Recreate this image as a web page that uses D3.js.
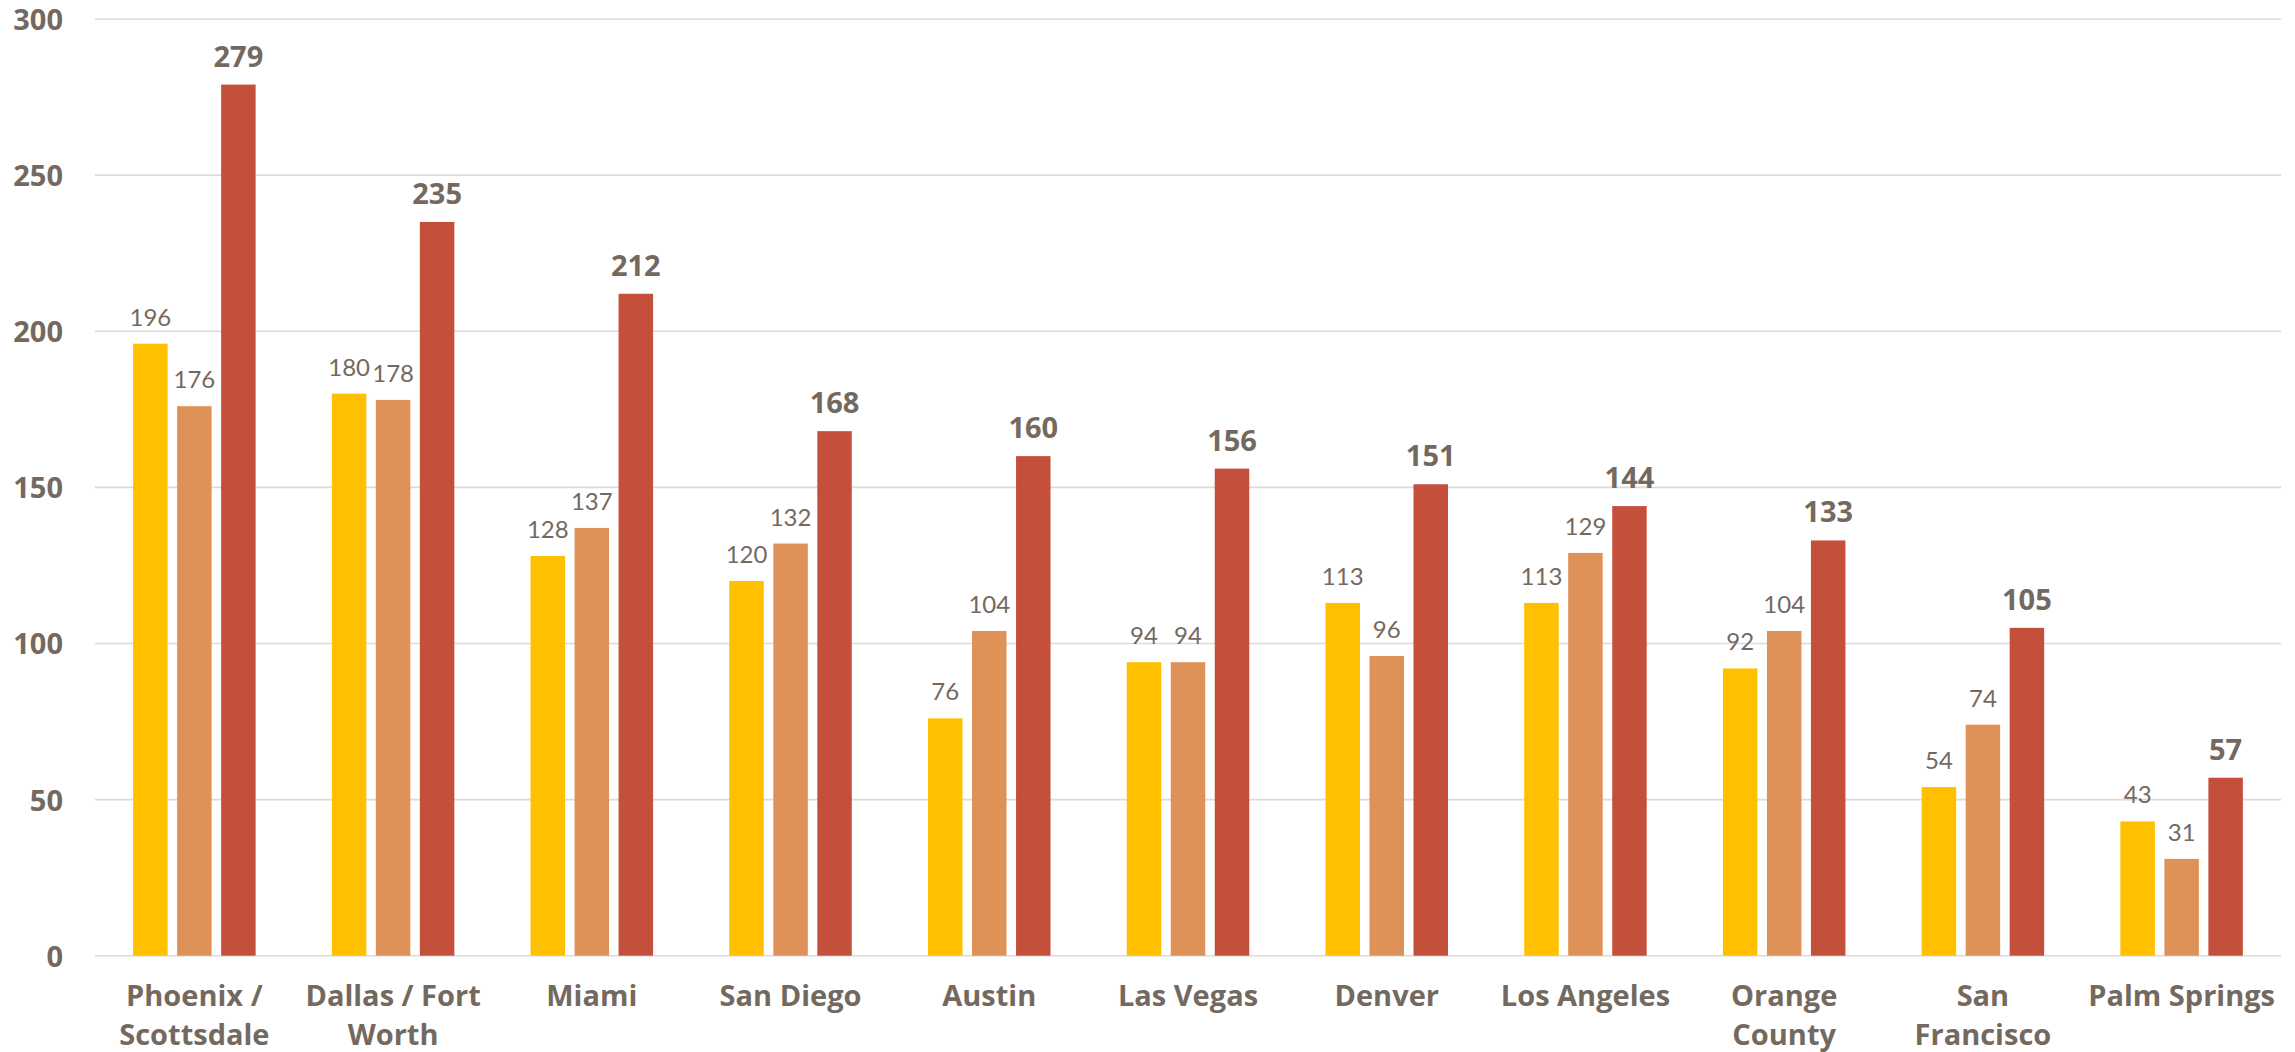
<!DOCTYPE html>
<html><head><meta charset="utf-8">
<script src="https://cdn.jsdelivr.net/npm/d3@7"></script>
<style>html,body{margin:0;padding:0;background:#fff;}svg{display:block;}</style>
</head><body>
<svg id="chart" width="2295" height="1052"></svg>
<script>
const categories = [["Phoenix /","Scottsdale"],["Dallas / Fort","Worth"],["Miami"],["San Diego"],["Austin"],["Las Vegas"],["Denver"],["Los Angeles"],["Orange","County"],["San","Francisco"],["Palm Springs"]];
const seriesNames = ["s1","s2","s3"];
const series1 = [196,180,128,120,76,94,113,113,92,54,43];
const series2 = [176,178,137,132,104,94,96,129,104,74,31];
const series3 = [279,235,212,168,160,156,151,144,133,105,57];
const yTicks = [0,50,100,150,200,250,300];
const colors = ["#FFC000","#DF9257","#C4503C"];

(function(){
const boldFont = "'Century Gothic','Open Sans',sans-serif";
const lightFont = "'Century Gothic','Lato',sans-serif";
const textColor = "#74695F";
const svg = d3.select("#chart");
const mLeft = 95, mRight = 2281, mTop = 19, mBottom = 955.7;
const catKeys = categories.map(c => c.join(" "));
const x0 = d3.scaleBand().domain(catKeys).range([mLeft, mRight]).padding(0);
const x1 = d3.scaleBand().domain(seriesNames).range([-61.25, 61.25]).paddingInner(0.216).paddingOuter(0);
const y = d3.scaleLinear().domain([0,300]).range([mBottom, mTop]);

svg.append("g").selectAll("line").data(yTicks).join("line")
  .attr("x1", mLeft).attr("x2", mRight)
  .attr("y1", d => y(d)).attr("y2", d => y(d))
  .attr("stroke", "#DEDAD6").attr("stroke-width", 1.6);

svg.append("g").selectAll("text").data(yTicks).join("text")
  .attr("x", 63).attr("y", d => y(d) + 11)
  .attr("text-anchor", "end")
  .attr("font-family", boldFont).attr("font-weight", "bold").attr("font-size", 29)
  .attr("fill", textColor).text(d => d);

const data = catKeys.map((k,i) => ({key:k, vals:[series1[i],series2[i],series3[i]]}));

const groups = svg.append("g").selectAll("g").data(data).join("g")
  .attr("transform", d => `translate(${x0(d.key) + x0.bandwidth()/2},0)`);

groups.selectAll("rect").data(d => d.vals.map((v,j) => ({v, s:seriesNames[j], j})))
  .join("rect")
  .attr("x", d => x1(d.s)).attr("width", x1.bandwidth())
  .attr("y", d => y(d.v)).attr("height", d => y(0) - y(d.v))
  .attr("fill", d => colors[d.j]);

groups.selectAll("text.val").data(d => d.vals.map((v,j) => ({v, s:seriesNames[j], j})))
  .join("text").attr("class","val")
  .attr("x", d => x1(d.s) + x1.bandwidth()/2)
  .attr("y", d => y(d.v) - 18)
  .attr("text-anchor", "middle")
  .attr("font-family", d => d.j === 2 ? boldFont : lightFont)
  .attr("font-weight", d => d.j === 2 ? "bold" : "400")
  .attr("font-size", d => d.j === 2 ? 29 : 24)
  .attr("fill", textColor)
  .text(d => d.v);

const catG = svg.append("g");
categories.forEach((lines, i) => {
  const cx = x0(catKeys[i]) + x0.bandwidth()/2;
  const t = catG.append("text")
    .attr("x", cx).attr("y", 1006)
    .attr("text-anchor", "middle")
    .attr("font-family", boldFont).attr("font-weight", "bold").attr("font-size", 29)
    .attr("fill", textColor);
  lines.forEach((ln, k) => {
    t.append("tspan").attr("x", cx).attr("dy", k === 0 ? 0 : 39).text(ln);
  });
});
})();
</script>
</body></html>
